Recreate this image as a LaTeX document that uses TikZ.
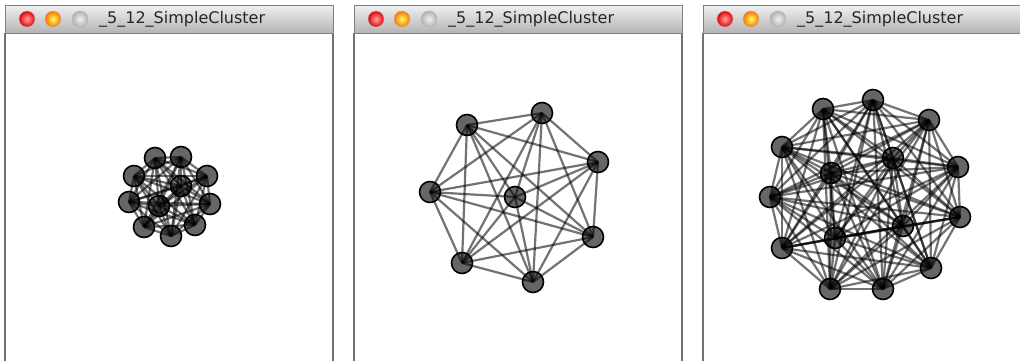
\documentclass[tikz,border=0pt]{standalone}
\usepackage{fontspec}
\setmainfont{DejaVu Sans}
\usetikzlibrary{positioning,shadings}

\pgfdeclarelayer{edgelayer}
\pgfsetlayers{edgelayer,main}

\begin{document}
\begin{tikzpicture}[x=1pt,y=-1pt]

\tikzset{vertex/.style = {shape=circle,draw=black,line width=1.6pt,fill=black,fill opacity=0.6,minimum size=21pt,inner sep=0pt}}
\tikzset{edge/.style = {draw=black,opacity=0.55,line width=2.2pt}}
\tikzset{titlebar/.style = {top color=black!6,bottom color=black!30,draw=black!50,line width=1pt}}
\tikzset{button/.style = {circle,minimum size=16pt,inner sep=0pt,draw=black!30,line width=0.4pt}}

\useasboundingbox (0,0) rectangle (1020,360);
\clip (0,0) rectangle (1020,360);

% windows
\foreach \wx/\w in {5/1,354/2,703/3}{
  \draw[black!55,line width=1.5pt] (\wx,33) -- (\wx,361);
  \draw[black!55,line width=1.5pt] (\wx+328,33) -- (\wx+328,361);
  \node[titlebar,rectangle,minimum width=328pt,minimum height=28pt,anchor=north west,inner sep=0pt] (bar\w) at (\wx,5) {};
  \node[button,inner color=red!35!white,outer color=red!90!black] (red\w) at (\wx+22,19) {};
  \node[button,inner color=yellow!60!white,outer color=orange!90!red] (orange\w) at (\wx+48,19) {};
  \node[button,inner color=black!5,outer color=black!30] (grey\w) at (\wx+75,19) {};
  \node[anchor=west,inner sep=0pt,font=\fontsize{16}{18}\selectfont,text=black!85] (title\w) at (\wx+94,19.5) {\_5\_12\_SimpleCluster};
}

% vertices
\foreach \i/\x/\y in {1/155/158,2/181/157,3/134/176,4/207/176,5/129/202,6/210/204,
                      7/144/227,8/171/236,9/195/225,10/181/186,11/159/206}
  \node[vertex] (a\i) at (\x,\y) {};

\foreach \i/\x/\y in {1/467/125,2/542/113,3/598/162,4/430/192,5/593/237,6/462/263,
                      7/533/282,8/515/197}
  \node[vertex] (b\i) at (\x,\y) {};

\foreach \i/\x/\y in {1/823/109,2/873/100,3/929/120,4/782/147,5/958/167,6/770/197,
                      7/960/217,8/782/248,9/931/268,10/830/289,11/883/289,
                      12/893/158,13/831/173,14/903/226,15/835/238}
  \node[vertex] (c\i) at (\x,\y) {};

%edges
\begin{pgfonlayer}{edgelayer}
\foreach \i in {1,...,10}{
  \pgfmathtruncatemacro\k{\i+1}
  \foreach \j in {\k,...,11}
    \draw[edge] (a\i.center) -- (a\j.center);
}
\foreach \i in {1,...,7}{
  \pgfmathtruncatemacro\k{\i+1}
  \foreach \j in {\k,...,8}
    \draw[edge] (b\i.center) -- (b\j.center);
}
\foreach \i in {1,...,14}{
  \pgfmathtruncatemacro\k{\i+1}
  \foreach \j in {\k,...,15}
    \draw[edge] (c\i.center) -- (c\j.center);
}
\end{pgfonlayer}

\end{tikzpicture}
\end{document}
